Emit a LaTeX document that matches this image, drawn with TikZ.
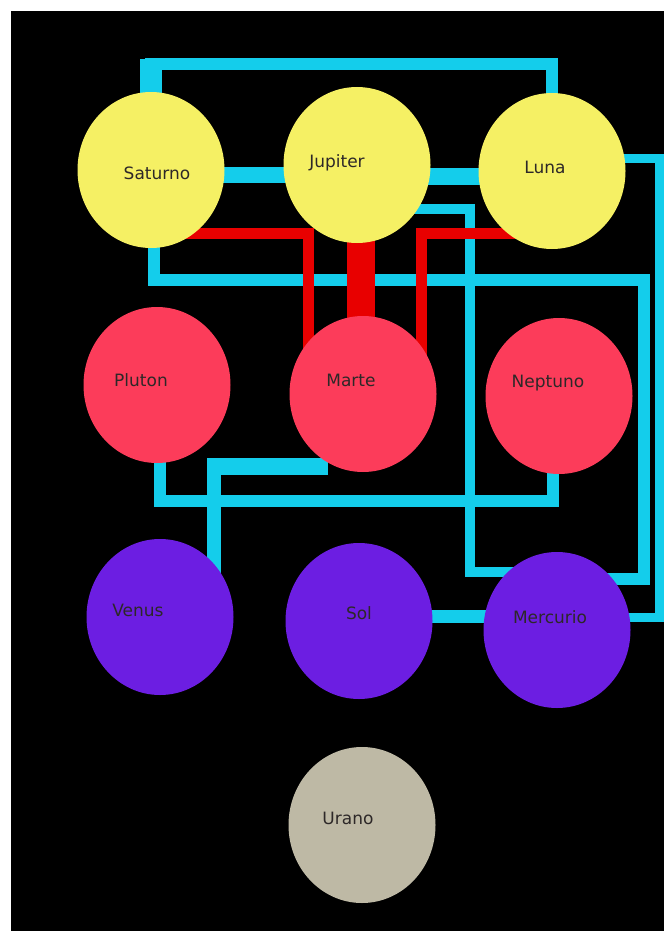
\documentclass[tikz,border=0pt]{standalone}
\usepackage{fontspec}
\setmainfont{DejaVu Sans}
\usetikzlibrary{shapes.geometric}
\pgfdeclarelayer{back}
\pgfdeclarelayer{bg}
\pgfsetlayers{back,bg,main}
\definecolor{pyellow}{RGB}{245,240,100}
\definecolor{pred}{RGB}{252,60,90}
\definecolor{ppurple}{RGB}{108,30,226}
\definecolor{pbeige}{RGB}{190,185,165}
\definecolor{lcyan}{RGB}{20,205,235}
\definecolor{lred}{RGB}{232,0,0}
\definecolor{ltext}{RGB}{45,40,40}
\begin{document}
\begin{tikzpicture}[x=1pt,y=-1pt,
  planet/.style={ellipse,minimum width=147pt,minimum height=156pt,inner sep=0pt,draw=none},
  lbl/.style={font=\fontsize{17}{20}\selectfont,text=ltext,inner sep=0pt},
  cyanlink/.style={draw=lcyan,line cap=butt,line join=miter},
  redlink/.style={draw=lred,line cap=butt,line join=miter}]
\useasboundingbox (0,0) rectangle (664,931);
\begin{pgfonlayer}{back}
\fill[white] (0,0) rectangle (664,931);
\fill[black] (10.5,11) rectangle (664,931);
\end{pgfonlayer}
% planets
\node[planet,fill=pyellow] (sat) at (151,170) {};
\node[planet,fill=pyellow] (jup) at (357,165) {};
\node[planet,fill=pyellow] (luna) at (552,171) {};
\node[planet,fill=pred] (plu) at (157,385) {};
\node[planet,fill=pred] (marte) at (363,394) {};
\node[planet,fill=pred] (nep) at (559,396) {};
\node[planet,fill=ppurple] (ven) at (160,617) {};
\node[planet,fill=ppurple] (sol) at (359,621) {};
\node[planet,fill=ppurple] (merc) at (557,630) {};
\node[planet,fill=pbeige] (ura) at (362,825) {};
% labels
\node[lbl] (tsat) at (157,173) {Saturno};
\node[lbl] (tjup) at (337,163) {Jupiter};
\node[lbl] (tluna) at (545,167) {Luna};
\node[lbl] (tplu) at (141,380) {Pluton};
\node[lbl] (tmarte) at (351,380) {Marte};
\node[lbl] (tnep) at (548,383) {Neptuno};
\node[lbl] (tven) at (138,610) {Venus};
\node[lbl] (tsol) at (359,613) {Sol};
\node[lbl] (tmerc) at (550,617) {Mercurio};
\node[lbl] (tura) at (348,818) {Urano};
% connectors
\begin{pgfonlayer}{bg}
% Saturno - Luna (top loop)
\draw[cyanlink,line width=12pt] (sat.center) -- (sat.center |- 0,64.5) -- (luna.center |- 0,64.5) -- (luna.center);
\draw[cyanlink,line width=22pt] (sat.center) -- (sat.center |- 0,59);
% Saturno - Jupiter
\draw[cyanlink,line width=16pt] (sat.center |- 0,175) -- (jup.center |- 0,175);
% Jupiter - Luna
\draw[cyanlink,line width=17pt] (jup.center |- 0,176) -- (luna.center |- 0,176);
% Luna - Mercurio (right)
\draw[cyanlink,line width=9pt] (luna.center |- 0,158) -- (659.5,158) -- (659.5,617) -- (merc.center |- 0,617);
% Jupiter - Mercurio
\draw[cyanlink,line width=10pt] (jup.center |- 0,209) -- (470,209) -- (470,572) -- (merc.center |- 0,572);
% Saturno - Mercurio
\draw[cyanlink,line width=12pt] ([xshift=3pt]sat.center) |- (644,280) -- (644,578.5) -- (merc.center |- 0,578.5);
% Pluton - Neptuno
\draw[cyanlink,line width=12pt] ([xshift=3pt]plu.center) |- (553,501) -- ([xshift=-6pt]nep.center);
% Marte - Venus
\draw[cyanlink,line width=17pt] ([xshift=-35pt]marte.center |- 0,466.5) -- (207,466.5);
\draw[cyanlink,line width=14pt] (214,458) -- ([xshift=54pt]ven.center);
% Sol - Mercurio
\draw[cyanlink,line width=13pt] (sol.center |- 0,616) -- (merc.center |- 0,616);
% red: Saturno - Marte
\draw[redlink,line width=11pt] (sat.center |- 0,233) -| ([xshift=-55pt]marte.center);
% red: Jupiter - Marte
\draw[redlink,line width=28pt] ([xshift=4pt]jup.center) -- ([xshift=-2pt]marte.center);
% red: Luna - Marte
\draw[redlink,line width=11pt] (luna.center |- 0,233) -| ([xshift=58pt]marte.center);
\end{pgfonlayer}
\end{tikzpicture}
\end{document}
